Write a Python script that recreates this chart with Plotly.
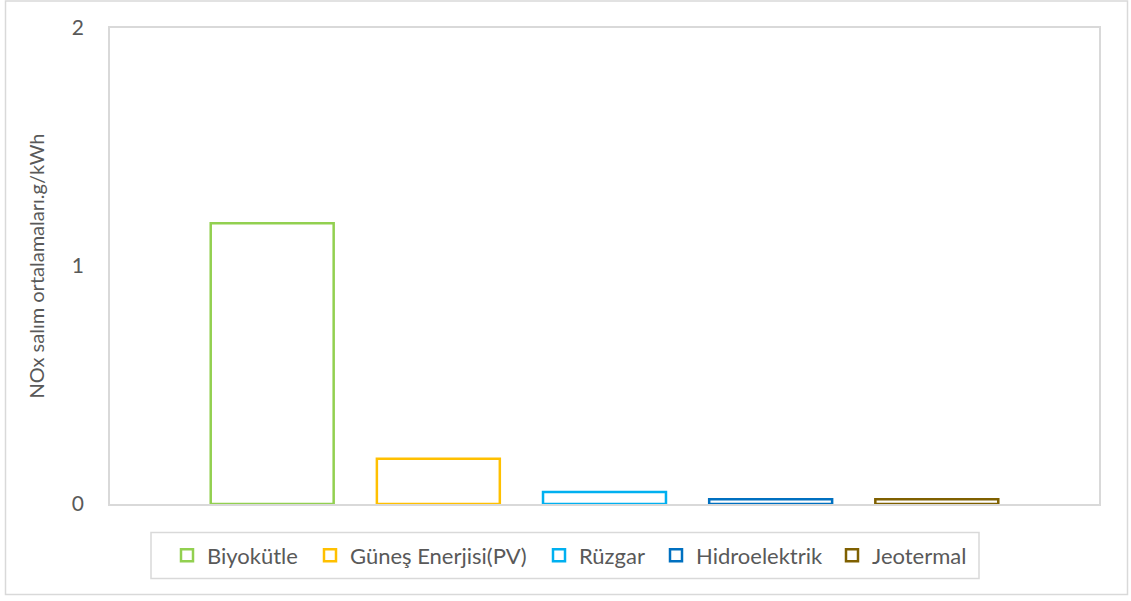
import plotly.graph_objects as go

# NOx emission averages by energy source (g/kWh)
sources = ["Biyokütle", "Güneş Enerjisi(PV)", "Rüzgar", "Hidroelektrik", "Jeotermal"]
nox_values = [1.18, 0.19, 0.05, 0.02, 0.02]
outline_colors = ["#92D050", "#FFC000", "#00B0F0", "#0070C0", "#7F6000"]
y_ticks = [0, 1, 2]

FONT = "Lato"
TEXT_COLOR = "#595959"
GRID_COLOR = "#D9D9D9"

# plot-area geometry in pixels (used to place legend entries and frames)
FIG_W, FIG_H = 1131, 601
M_L, M_R, M_T, M_B = 110, 32, 28, 96.5
PLOT_W = FIG_W - M_L - M_R
PLOT_H = FIG_H - M_T - M_B


def px_x(px):
    return (px - M_L) / PLOT_W


def px_y(py):
    return (FIG_H - M_B - py) / PLOT_H


# left edge of each legend entry, spread across the bottom legend frame
legend_left_px = [167, 310, 539, 656, 832]
legend_names = ["legend"] + [f"legend{i}" for i in range(2, len(sources) + 1)]

fig = go.Figure()
for name, val, col, lg in zip(sources, nox_values, outline_colors, legend_names):
    fig.add_trace(go.Bar(
        x=["NOx"], y=[val], name=name, legend=lg, cliponaxis=False,
        marker=dict(color="white", line=dict(color=col, width=2.5)),
    ))

layout_legends = {}
for lg, lx in zip(legend_names, legend_left_px):
    layout_legends[lg] = dict(
        orientation="h", x=px_x(lx), xanchor="left", y=px_y(556), yanchor="middle",
        borderwidth=0, bgcolor="rgba(0,0,0,0)",
        font=dict(family=FONT, size=22, color=TEXT_COLOR),
    )

fig.update_layout(
    width=FIG_W, height=FIG_H,
    margin=dict(l=M_L, r=M_R, t=M_T, b=M_B, autoexpand=False),
    paper_bgcolor="white", plot_bgcolor="white",
    barmode="group", bargap=0.16, bargroupgap=0.26,
    font=dict(family=FONT, size=21, color=TEXT_COLOR),
    showlegend=True,
    **layout_legends,
    xaxis=dict(
        showticklabels=False, showgrid=False, zeroline=False,
        showline=True, linecolor=GRID_COLOR, linewidth=1.5, mirror=True,
        layer="below traces",
    ),
    yaxis=dict(
        range=[0, 2], tickvals=y_ticks, ticktext=[str(t) for t in y_ticks],
        showgrid=False, zeroline=False,
        showline=True, linecolor=GRID_COLOR, linewidth=1.5, mirror=True,
        layer="below traces",
        ticks="", ticklabelstandoff=20,
        tickfont=dict(family=FONT, size=21, color=TEXT_COLOR),
        title=dict(text="NOx salım ortalamaları.g/kWh",
                   font=dict(family=FONT, size=20, color=TEXT_COLOR), standoff=22),
    ),
    shapes=[
        # outer chart frame
        dict(type="rect", xref="paper", yref="paper",
             x0=px_x(5.5), x1=px_x(1127.5), y0=px_y(595), y1=px_y(1),
             line=dict(color=GRID_COLOR, width=1.5), fillcolor="rgba(0,0,0,0)", layer="below"),
        # legend frame
        dict(type="rect", xref="paper", yref="paper",
             x0=px_x(151), x1=px_x(979), y0=px_y(579), y1=px_y(533),
             line=dict(color=GRID_COLOR, width=1.5), fillcolor="white", layer="below"),
    ],
)

fig.write_html("out.html")
